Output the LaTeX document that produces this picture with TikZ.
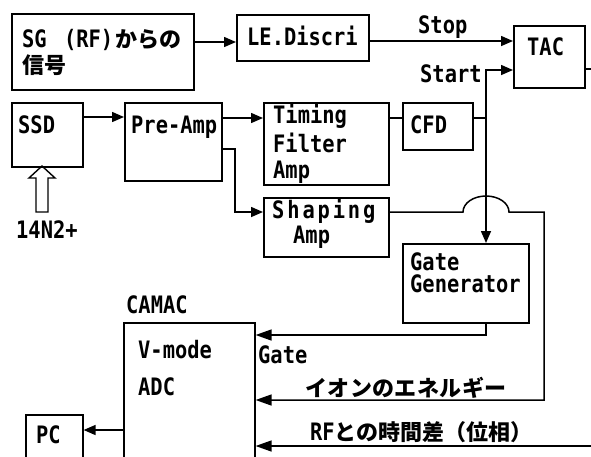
\documentclass[tikz,border=0pt]{standalone}
\usepackage{fontspec}
\usetikzlibrary{arrows.meta}
\setmainfont{DejaVu Sans Mono}
\newfontfamily\latf{DejaVu Sans Mono}[FakeStretch=0.85]
\newfontfamily\jpf{Noto Sans CJK JP}
\newcommand\mylat{\latf\bfseries\fontsize{24}{28}\selectfont}
\newcommand\myjp{\jpf\bfseries\fontsize{22}{26}\selectfont}
\tikzset{
  box/.style={draw, line width=1.6pt, inner sep=0pt, anchor=north west},
  txt/.style={inner sep=0pt, anchor=base west, font=\mylat},
  jtxt/.style={inner sep=0pt, anchor=base west, font=\myjp},
  conn/.style={line width=1.5pt},
  arr/.style={conn, -{Triangle[length=12pt,width=10pt]}},
  barr/.style={conn, -{Triangle[length=16pt,width=11pt]}},
}
\begin{document}
\begin{tikzpicture}[x=1pt,y=-1pt]
\useasboundingbox (0,0) rectangle (591,456);
\clip (0,0) rectangle (591,456);
% boxes
\node[box, minimum width=182pt, minimum height=76pt] (sg) at (11,13) {};
\node[box, minimum width=132pt, minimum height=46pt] (le) at (236,14) {};
\node[box, minimum width=71pt, minimum height=62pt] (tac) at (513,25) {};
\node[box, minimum width=71pt, minimum height=64pt] (ssd) at (11,102) {};
\node[box, minimum width=97pt, minimum height=78pt] (pre) at (124,102) {};
\node[box, minimum width=125pt, minimum height=82pt] (tfa) at (263,102) {};
\node[box, minimum width=70pt, minimum height=47pt] (cfd) at (402,102) {};
\node[box, minimum width=125pt, minimum height=59pt] (sha) at (263,197) {};
\node[box, minimum width=126pt, minimum height=79pt] (gg) at (402,243) {};
\node[box, minimum width=131pt, minimum height=150pt] (adc) at (123,322) {};
\node[box, minimum width=57pt, minimum height=60pt] (pc) at (25,414) {};
% texts
\node[txt] (tsg1) at (22,47) {SG\hspace{5pt} (RF)\myjp\hspace{2pt}からの};
\node[jtxt] (tsg2) at (22,73) {信号};
\node[txt] (tle) at (247,45) {LE.Discri};
\node[txt] (tstop) at (418,33) {Stop};
\node[txt] (tstart) at (420,82) {Start};
\node[txt] (ttac) at (527,55) {TAC};
\node[txt] (tssd) at (18,133) {SSD};
\node[txt] (tpre) at (131,133) {Pre-Amp};
\node[txt] (tt1) at (273,123) {Timing};
\node[txt] (tt2) at (273,152) {Filter};
\node[txt] (tt3) at (273,178) {Amp};
\node[txt] (ts1) at (272,218) {\addfontfeature{LetterSpace=12}Shaping};
\node[txt] (ts2) at (293,243) {Amp};
\node[txt] (tcfd) at (410,133) {CFD};
\node[txt] (tg1) at (410,270) {Gate};
\node[txt] (tg2) at (410,292) {Generator};
\node[txt] (tion) at (16,238) {14N2+};
\node[txt] (tcam) at (126,313) {CAMAC};
\node[txt] (tvm) at (138,358) {V-mode};
\node[txt] (tadc) at (138,395) {ADC};
\node[txt] (tpc) at (36,443) {PC};
\node[txt] (tgate) at (258,363) {Gate};
\node[jtxt] (ten) at (305,396) {\addfontfeature{LetterSpace=2}イオンのエネルギー};
\node[txt] (trf) at (310,440) {RF\myjp との時間差（位相）};
% helper coordinates
\coordinate (j) at (486,118);
\coordinate (y42) at (0,42);
\coordinate (y41) at (0,41);
\coordinate (y70) at (0,70);
\coordinate (tacout) at (591,69);
\coordinate (y117) at (0,117);
\coordinate (y149) at (0,149);
\coordinate (k1) at (235,149);
\coordinate (y212) at (0,212);
\coordinate (hopL) at (463,212);
\coordinate (k2) at (544,212);
\coordinate (y400) at (0,400);
\coordinate (y335) at (0,335);
\coordinate (rfin) at (591,446);
\coordinate (y430) at (0,430);
% connectors
\draw[arr] (sg.east |- y42) -- (le.west |- y42);
\draw[arr] (le.east |- y41) -- (tac.west |- y41);
\draw[arr] (j) -- (j |- y70) -- (tac.west |- y70);
\draw[conn] (tac.east |- tacout) -- (tacout);
\draw[arr] (ssd.east |- y117) -- (pre.west |- y117);
\draw[arr] (pre.east |- j) -- (tfa.west |- j);
\draw[conn] (tfa.east |- j) -- (cfd.west |- j);
\draw[conn] (cfd.east |- j) -- (j);
\draw[arr] (j) -- (gg.north -| j);
\draw[arr] (pre.east |- y149) -- (k1) -- (k1 |- y212) -- (sha.west |- y212);
\draw[barr] (sha.east |- y212) -- (hopL) arc[start angle=180, end angle=0, x radius=23pt, y radius=16pt] -- (k2) -- (k2 |- y400) -- (adc.east |- y400);
\draw[barr] (gg.south -| j) -- (j |- y335) -- (adc.east |- y335);
\draw[barr] (rfin) -- (adc.east |- rfin);
\draw[arr] (adc.west |- y430) -- (pc.east |- y430);
% hollow arrow from beam label up to SSD
\draw[line width=1.4pt] (36,212) -- (36,178) -- (29,178) -- (42,166) -- (55,178) -- (48,178) -- (48,212) -- cycle;
\end{tikzpicture}
\end{document}
